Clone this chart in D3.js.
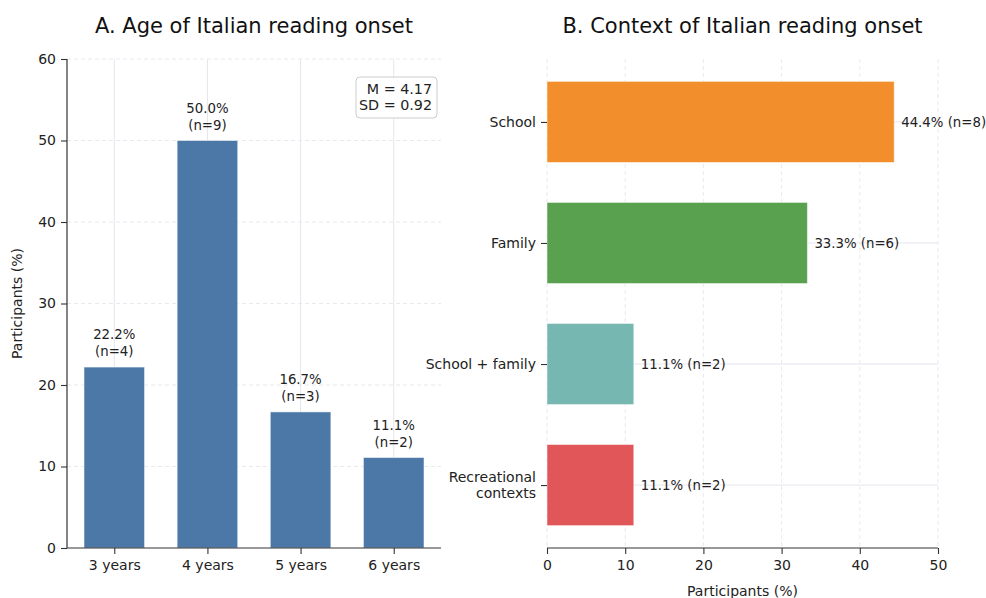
<!DOCTYPE html>
<html><head><meta charset="utf-8">
<script src="https://cdn.jsdelivr.net/npm/d3@7"></script>
<style>
body{margin:0;background:#fff;}
svg{display:block;font-family:"DejaVu Sans",sans-serif;}
</style></head><body>
<svg id="c" width="986" height="598"></svg>
<script>
// ---- Data ----
const ageCategories = ["3 years", "4 years", "5 years", "6 years"];
const agePercent = [22.2, 50.0, 16.7, 11.1];
const ageCounts = [4, 9, 3, 2];
const ageTicks = [0, 10, 20, 30, 40, 50, 60];
const ageStats = ["M = 4.17", "SD = 0.92"];

const contextCategories = ["School", "Family", "School + family", "Recreational contexts"];
const contextPercent = [44.4, 33.3, 11.1, 11.1];
const contextCounts = [8, 6, 2, 2];
const contextColors = ["#f28e2b", "#59a14f", "#76b7b2", "#e15759"];
const contextTicks = [0, 10, 20, 30, 40, 50];

const titleA = "A. Age of Italian reading onset";
const titleB = "B. Context of Italian reading onset";
const axisLabel = "Participants (%)";

const svg = d3.select("#c");
const spineColor = "#333";
const gridColor = "#e6e6ee";
const tickFont = 14, labelFont = 13.3, titleFont = 21;

// ---- Panel A ----
const A = {left: 67, right: 441, top: 59, bottom: 548};
const xA = d3.scaleLinear().domain([-0.5075, 3.5075]).range([A.left, A.right]);
const yA = d3.scaleLinear().domain([0, 60]).range([A.bottom, A.top]);
const gA = svg.append("g");

gA.selectAll(".hg").data(ageTicks.slice(1)).join("line")
  .attr("x1", A.left).attr("x2", A.right)
  .attr("y1", d => yA(d)).attr("y2", d => yA(d))
  .attr("stroke", gridColor).attr("stroke-width", 0.9).attr("stroke-dasharray", "4,3");
gA.selectAll(".vg").data(ageCategories).join("line")
  .attr("x1", (d, i) => xA(i)).attr("x2", (d, i) => xA(i))
  .attr("y1", A.top).attr("y2", A.bottom)
  .attr("stroke", gridColor).attr("stroke-width", 1);

const bw = 0.65;
gA.selectAll(".bar").data(agePercent).join("rect")
  .attr("x", (d, i) => xA(i - bw / 2)).attr("width", xA(bw) - xA(0))
  .attr("y", d => yA(d)).attr("height", d => yA(0) - yA(d))
  .attr("fill", "#4c78a8")
  .attr("stroke", "#fff").attr("stroke-opacity", 0.5).attr("stroke-width", 1);

agePercent.forEach((v, i) => {
  const t = gA.append("text").attr("text-anchor", "middle")
    .attr("font-size", labelFont).attr("fill", "#222");
  t.append("tspan").attr("x", xA(i)).attr("y", yA(v) - 28).text(v.toFixed(1) + "%");
  t.append("tspan").attr("x", xA(i)).attr("y", yA(v) - 11).text("(n=" + ageCounts[i] + ")");
});

const styleAxis = g => {
  g.selectAll(".tick line").attr("stroke", spineColor).attr("stroke-width", 1.1);
  g.selectAll("text").attr("font-size", tickFont).attr("fill", "#222").attr("font-family", "DejaVu Sans");
};

const axYA = d3.axisLeft(yA).tickValues(ageTicks).tickSize(6).tickPadding(5);
gA.append("g").attr("transform", `translate(${A.left},0)`).call(axYA)
  .call(g => { g.select(".domain").attr("stroke", spineColor).attr("stroke-width", 1.2).attr("d", `M0,${A.bottom}V${A.top}`); styleAxis(g); });
const axXA = d3.axisBottom(xA).tickValues([0, 1, 2, 3]).tickFormat(i => ageCategories[i]).tickSize(6).tickPadding(6);
gA.append("g").attr("transform", `translate(0,${A.bottom})`).call(axXA)
  .call(g => { g.select(".domain").attr("stroke", spineColor).attr("stroke-width", 1.2).attr("d", `M${A.left},0H${A.right}`); styleAxis(g); });

gA.append("text").attr("transform", `translate(22,${(A.top + A.bottom) / 2}) rotate(-90)`)
  .attr("text-anchor", "middle").attr("font-size", 14).attr("fill", "#222").text(axisLabel);
gA.append("text").attr("x", (A.left + A.right) / 2).attr("y", 33).attr("text-anchor", "middle")
  .attr("font-size", titleFont).attr("fill", "#111").text(titleA);

gA.append("rect").attr("x", 356).attr("y", 77).attr("width", 81).attr("height", 41).attr("rx", 4)
  .attr("fill", "#fff").attr("stroke", "#ccc").attr("stroke-width", 1);
ageStats.forEach((s, i) => {
  gA.append("text").attr("x", 432).attr("y", 94 + i * 16).attr("text-anchor", "end")
    .attr("font-size", 14.3).attr("fill", "#222").text(s);
});

// ---- Panel B ----
const B = {left: 547, right: 938, top: 59, bottom: 548};
const xB = d3.scaleLinear().domain([0, 50]).range([B.left, B.right]);
const yB = d3.scaleLinear().domain([-0.52, 3.52]).range([B.top, B.bottom]);
const gB = svg.append("g");

gB.selectAll(".vg").data(contextTicks).join("line")
  .attr("x1", d => xB(d)).attr("x2", d => xB(d))
  .attr("y1", B.top).attr("y2", B.bottom)
  .attr("stroke", gridColor).attr("stroke-width", 0.9).attr("stroke-dasharray", "4,3");
gB.selectAll(".hg").data(contextCategories).join("line")
  .attr("x1", B.left).attr("x2", B.right)
  .attr("y1", (d, i) => yB(i)).attr("y2", (d, i) => yB(i))
  .attr("stroke", gridColor).attr("stroke-width", 1);

const bh = 0.67;
gB.selectAll(".bar").data(contextPercent).join("rect")
  .attr("x", xB(0)).attr("width", d => xB(d) - xB(0))
  .attr("y", (d, i) => yB(i - bh / 2)).attr("height", yB(bh) - yB(0))
  .attr("fill", (d, i) => contextColors[i])
  .attr("stroke", "#fff").attr("stroke-opacity", 0.5).attr("stroke-width", 1);

contextPercent.forEach((v, i) => {
  gB.append("text").attr("x", xB(v) + 7).attr("y", yB(i)).attr("dy", "0.35em")
    .attr("font-size", labelFont).attr("fill", "#222")
    .text(v.toFixed(1) + "% (n=" + contextCounts[i] + ")");
});

const axXB = d3.axisBottom(xB).tickValues(contextTicks).tickSize(6).tickPadding(6);
gB.append("g").attr("transform", `translate(0,${B.bottom})`).call(axXB)
  .call(g => { g.select(".domain").attr("stroke", spineColor).attr("stroke-width", 1.2).attr("d", `M${B.left},0H${B.right}`); styleAxis(g); });

const axYB = d3.axisLeft(yB).tickValues([0, 1, 2, 3]).tickFormat(() => "").tickSize(6);
gB.append("g").attr("transform", `translate(${B.left},0)`).call(axYB)
  .call(g => { g.select(".domain").remove(); styleAxis(g); });

contextCategories.forEach((c, i) => {
  const words = c === "Recreational contexts" ? ["Recreational", "contexts"] : [c];
  const t = gB.append("text").attr("text-anchor", "end").attr("font-size", tickFont).attr("fill", "#222");
  const n = words.length;
  words.forEach((w, k) => {
    t.append("tspan").attr("x", B.left - 11)
      .attr("y", yB(i) + (k - (n - 1) / 2) * 16).attr("dy", "0.35em").text(w);
  });
});

gB.append("text").attr("x", (B.left + B.right) / 2).attr("y", 596).attr("text-anchor", "middle")
  .attr("font-size", 14).attr("fill", "#222").text(axisLabel);
gB.append("text").attr("x", (B.left + B.right) / 2).attr("y", 33).attr("text-anchor", "middle")
  .attr("font-size", titleFont).attr("fill", "#111").text(titleB);
</script>
</body></html>
